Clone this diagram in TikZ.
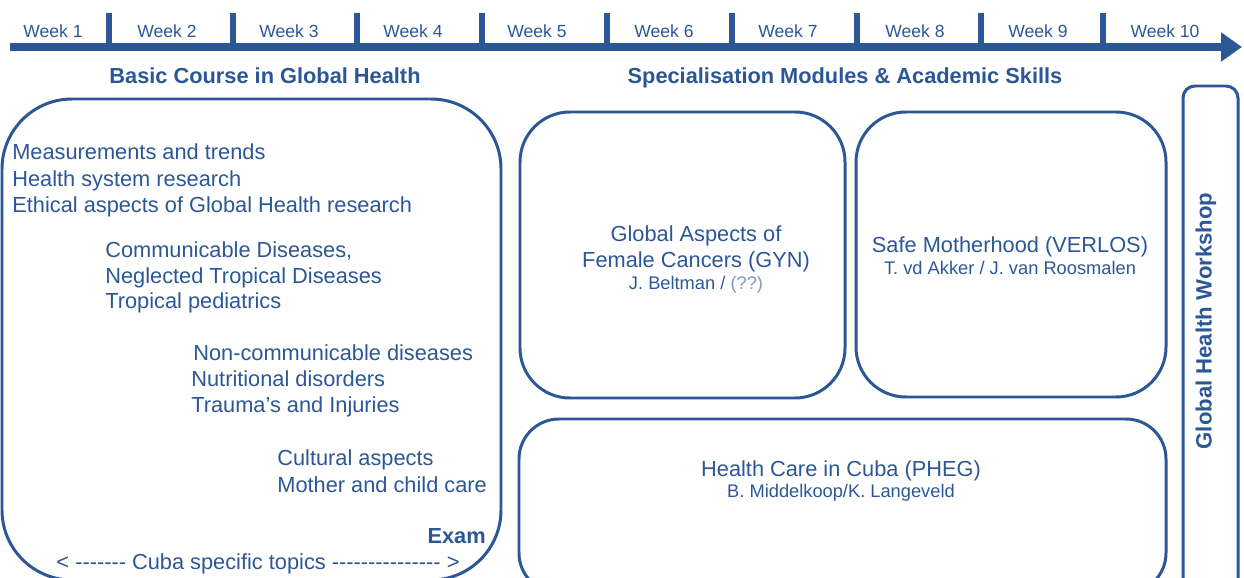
\documentclass[tikz,border=0pt]{standalone}
\usepackage{fontspec}
\setmainfont{Liberation Sans}
\usetikzlibrary{arrows.meta}
\definecolor{lumcblue}{RGB}{44,87,150}
\definecolor{paleblue}{RGB}{128,152,194}

\begin{document}
\begin{tikzpicture}[x=0.02cm, y=-0.02cm,
    every node/.style={text=lumcblue, inner sep=0pt},
    week/.style={anchor=base, font=\fontsize{10}{12}\selectfont},
    heading/.style={anchor=base, font=\fontsize{12.4}{14}\selectfont\bfseries},
    topic/.style={anchor=base west, font=\fontsize{12.4}{14}\selectfont},
    module/.style={anchor=base, font=\fontsize{12.4}{14}\selectfont},
    staff/.style={anchor=base, font=\fontsize{10.4}{12}\selectfont},
    frame/.style={draw=lumcblue, line width=1.7pt}]
    \clip (0,0) rectangle (1244,578);

    % time line
    \draw[lumcblue, line width=4pt, -{Triangle[length=0.42cm, width=0.56cm]}] (10,47) -- (1242,47);
    \foreach \x in {109,233,357,482,607,732,857,981,1103}
      \draw[lumcblue, line width=3pt] (\x,13) -- (\x,47);
    \foreach \x/\n in {53/1,167/2,289/3,413/4,537/5,664/6,788/7,915/8,1038/9,1165/10}
      \node[week] (week\n) at (\x,37) {Week \n};

    % headings
    \node[heading] (basic) at (265,83) {Basic Course in Global Health};
    \node[heading] (spec) at (845,83) {Specialisation Modules \& Academic Skills};

    % basic course
    \draw[frame, rounded corners=1.4cm] (2,99) rectangle (501,580);
    \node[topic] (meas) at (12,159) {Measurements and trends};
    \node[topic] (hsr) at (12,186) {Health system research};
    \node[topic] (ethic) at (12,212) {Ethical aspects of Global Health research};
    \node[topic] (comm) at (105,257) {Communicable Diseases,};
    \node[topic] (ntd) at (105,283) {Neglected Tropical Diseases};
    \node[topic] (ped) at (105,308) {Tropical pediatrics};
    \node[topic] (ncd) at (193,360) {Non-communicable diseases};
    \node[topic] (nutr) at (191,386) {Nutritional disorders};
    \node[topic] (trauma) at (191,412) {Trauma’s and Injuries};
    \node[topic] (cult) at (277,465) {Cultural aspects};
    \node[topic] (mch) at (277,492) {Mother and child care};
    \node[anchor=base east, font=\fontsize{12.4}{14}\selectfont\bfseries] (exam) at (486,543) {Exam};
    \node[module] (cuba) at (258,569) {< -{}-{}-{}-{}-{}-{}- Cuba specific topics -{}-{}-{}-{}-{}-{}-{}-{}-{}-{}-{}-{}-{}-{}- >};

    % specialisation modules
    \draw[frame, rounded corners=1cm] (520,112) rectangle (845,398);
    \node[module] (gyn1) at (696,241) {Global Aspects of};
    \node[module] (gyn2) at (696,267) {Female Cancers (GYN)};
    \node[staff] (gyn3) at (696,289) {J. Beltman / \textcolor{paleblue}{(??)}};

    \draw[frame, rounded corners=1cm] (856,112) rectangle (1166,397);
    \node[module] (verlos1) at (1010,252) {Safe Motherhood (VERLOS)};
    \node[staff] (verlos2) at (1010,274) {T. vd Akker / J. van Roosmalen};

    \draw[frame, rounded corners=0.8cm] (519,419) rectangle (1166,593);
    \node[module] (pheg1) at (841,476) {Health Care in Cuba (PHEG)};
    \node[staff] (pheg2) at (841,497) {B. Middelkoop/K. Langeveld};

    % workshop
    \draw[frame, rounded corners=0.24cm] (1183,86) rectangle (1238,620);
    \node[rotate=90, font=\fontsize{12.6}{14}\selectfont\bfseries] (gws) at (1206,321) {Global Health Workshop};
  \end{tikzpicture}
\end{document}
